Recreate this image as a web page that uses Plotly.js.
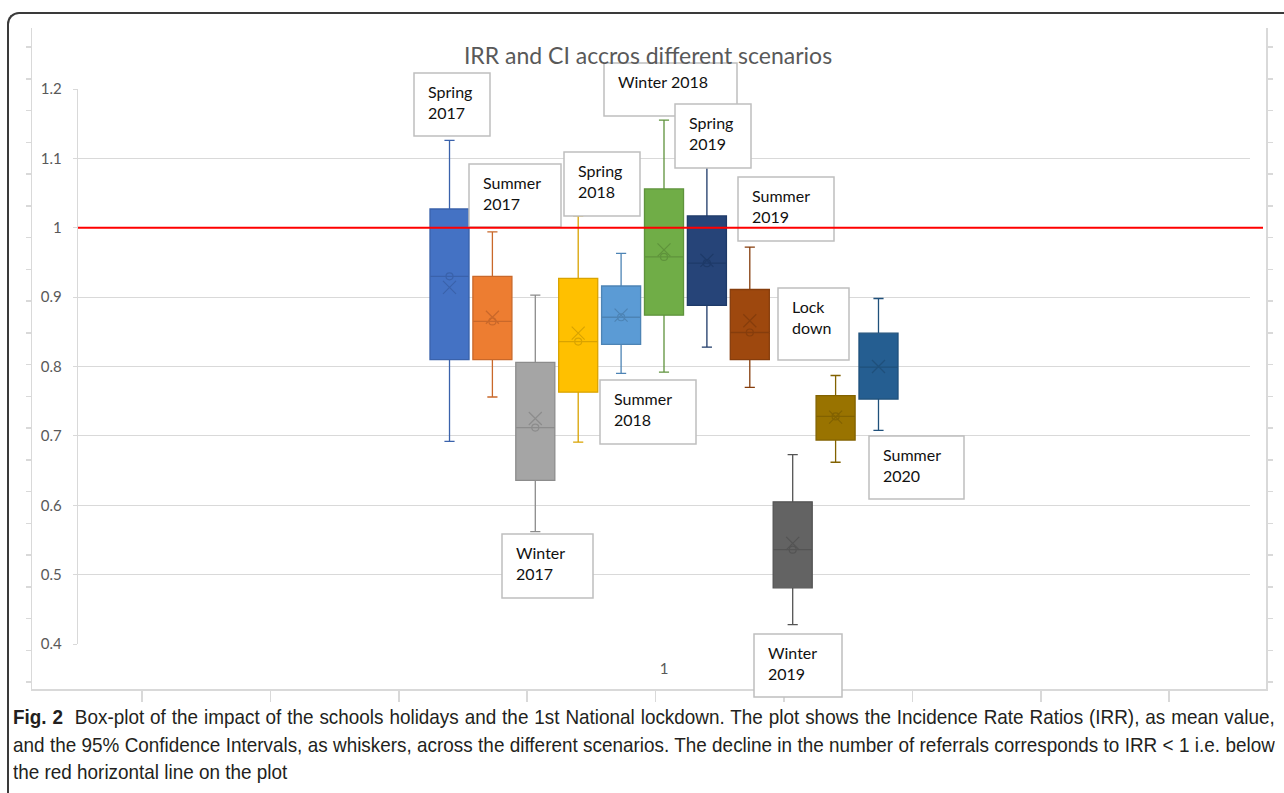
<!DOCTYPE html>
<html>
<head>
<meta charset="utf-8">
<script src="https://cdn.plot.ly/plotly-3.0.1.min.js"></script>
<style>
  html, body { margin: 0; padding: 0; background: #ffffff; width: 1284px; height: 793px; overflow: hidden; }
  #chart { position: absolute; left: 0; top: 0; width: 1284px; height: 793px; }
  #card { position: absolute; left: 7px; top: 12px; width: 1400px; height: 900px;
          border-left: 2px solid #3a3a3a; border-top: 2px solid #3a3a3a;
          border-top-left-radius: 12px; pointer-events: none; z-index: 3; }
  #caption { position: absolute; left: 13px; top: 703px; width: 1262px; z-index: 4;
             font-family: "Liberation Sans", Arial, sans-serif; font-size: 21px; color: #231f20; }
  .ln { width: 1402px; height: 27.5px; line-height: 27.5px; white-space: nowrap;
        transform: scaleX(0.9); transform-origin: left top; }
  .jl { text-align: justify; text-align-last: justify; white-space: normal; overflow: hidden; }
</style>
</head>
<body>
<div id="chart"></div>
<div id="card"></div>
<div id="caption">
  <div class="ln jl"><b>Fig. 2</b>&nbsp; Box-plot of the impact of the schools holidays and the 1st National lockdown. The plot shows the Incidence Rate Ratios (IRR), as mean value,</div>
  <div class="ln jl">and the 95% Confidence Intervals, as whiskers, across the different scenarios. The decline in the number of referrals corresponds to IRR &lt; 1 i.e. below</div>
  <div class="ln">the red horizontal line on the plot</div>
</div>
<script>
// ---------------- data ----------------
const scenarios = ["Spring 2017","Summer 2017","Winter 2017","Spring 2018","Summer 2018","Winter 2018",
                   "Spring 2019","Summer 2019","Winter 2019","Lock down","Summer 2020"];
const labelText = ["Spring<br>2017","Summer<br>2017","Winter<br>2017","Spring<br>2018","Summer<br>2018","Winter 2018",
                   "Spring<br>2019","Summer<br>2019","Winter<br>2019","Lock<br>down","Summer<br>2020"];
const upperCI = [1.126, 0.994, 0.903, 1.017, 0.963, 1.155, 1.100, 0.972, 0.673, 0.787, 0.898];
const q3      = [1.027, 0.930, 0.806, 0.927, 0.916, 1.056, 1.017, 0.911, 0.605, 0.758, 0.848];
const median  = [0.930, 0.865, 0.712, 0.836, 0.871, 0.958, 0.949, 0.849, 0.536, 0.728, 0.799];
const meanIRR = [0.914, 0.871, 0.725, 0.848, 0.874, 0.968, 0.953, 0.866, 0.545, 0.727, 0.800];
const q1      = [0.810, 0.810, 0.636, 0.763, 0.832, 0.874, 0.888, 0.810, 0.481, 0.694, 0.753];
const lowerCI = [0.692, 0.756, 0.562, 0.691, 0.790, 0.792, 0.828, 0.770, 0.428, 0.662, 0.708];
const innerPoint = [0.930, 0.865, 0.712, 0.836, 0.871, 0.958, 0.949, 0.849, 0.536, 0.728, null];
const categoryLabel = ["1"];
const yTicks = [0.4, 0.5, 0.6, 0.7, 0.8, 0.9, 1.0, 1.1, 1.2];
const yTickText = ["0.4","0.5","0.6","0.7","0.8","0.9","1","1.1","1.2"];
const referenceIRR = 1;
const titleText = "IRR and CI accros different scenarios";

// ---------------- styles ----------------
const fills = ["#4472C4","#ED7D31","#A5A5A5","#FFC000","#5B9BD5","#70AD47","#264478","#9E480E","#636363","#997300","#255E91"];
const edges = ["#3A62AB","#C9682A","#8C8C8C","#D9A300","#4D84B5","#5F933C","#1E3A68","#863D0C","#545454","#826200","#1F507B"];

// layout geometry (pixels of the 1284x793 page)
const M = {l: 32, r: 18, t: 28, b: 104};
const W = 1284, H = 793;
const PW = W - M.l - M.r, PH = H - M.t - M.b;
const px = v => (v - M.l) / PW;
const py = v => (H - M.b - v) / PH;

// label boxes [x0, y0, x1, y1] in page pixels
const labelBoxes = [
  [414, 73, 490, 136], [469, 164, 561, 227], [502, 534, 593, 598], [564, 152, 640, 216],
  [600, 380, 696, 444], [604, 63, 737, 116], [675, 104, 751, 168], [738, 177, 834, 241],
  [754, 634, 842, 697], [778, 288, 849, 360], [869, 436, 964, 499]
];
const drawOrder = [0, 1, 2, 3, 4, 5, 6, 7, 8, 9, 10];

const traces = [];
scenarios.forEach((name, i) => {
  traces.push({
    type: 'box', name: name, x: [i],
    q1: [q1[i]], median: [median[i]], q3: [q3[i]],
    lowerfence: [lowerCI[i]], upperfence: [upperCI[i]],
    width: 0.91, whiskerwidth: 0.26,
    fillcolor: fills[i], line: {color: edges[i], width: 1.3},
    boxpoints: false, hoverinfo: 'skip', showlegend: false,
    xaxis: 'x', yaxis: 'y'
  });
});
const idx = scenarios.map((_, i) => i);
traces.push({
  type: 'scatter', mode: 'markers', x: idx, y: innerPoint,
  marker: {symbol: 'circle-open', size: 7, color: edges, line: {color: edges, width: 1.2}},
  hoverinfo: 'skip', showlegend: false, xaxis: 'x', yaxis: 'y'
});
traces.push({
  type: 'scatter', mode: 'markers', x: idx, y: meanIRR,
  marker: {symbol: 'x-thin-open', size: 13, color: edges, line: {color: edges, width: 1.2}},
  hoverinfo: 'skip', showlegend: false, xaxis: 'x', yaxis: 'y'
});
// frame subplot (no data)
traces.push({type: 'scatter', x: [], y: [], xaxis: 'x2', yaxis: 'y2', hoverinfo: 'skip', showlegend: false});

const shapes = [];
const annotations = [];
drawOrder.forEach(i => {
  const b = labelBoxes[i];
  shapes.push({type: 'rect', xref: 'paper', yref: 'paper', x0: px(b[0]), x1: px(b[2]), y0: py(b[3]), y1: py(b[1]),
               fillcolor: '#ffffff', line: {color: '#BFBFBF', width: 1.5}, layer: 'above'});
  annotations.push({xref: 'paper', yref: 'paper', x: px(b[0] + 12), y: py(b[1] + 7),
                    xanchor: 'left', yanchor: 'top', align: 'left', showarrow: false,
                    text: labelText[i], font: {family: 'Lato, sans-serif', size: 16, color: '#111111'}});
});
shapes.push({type: 'line', xref: 'paper', yref: 'y', x0: px(78), x1: px(1263), y0: referenceIRR, y1: referenceIRR,
             line: {color: '#FF0000', width: 2}, layer: 'above'});

// frame ticks
const frameX = [0,1,2,3,4,5,6,7,8];
const frameY = []; for (let k = 0; k <= 20; k++) frameY.push(0.22 + k);

const layout = {
  width: W, height: H, autosize: false,
  margin: {l: M.l, r: M.r, t: M.t, b: M.b, pad: 0},
  paper_bgcolor: '#ffffff', plot_bgcolor: 'rgba(0,0,0,0)',
  showlegend: false,
  title: {text: titleText, x: 648 / W, xanchor: 'center', xref: 'container',
          y: 1 - 56 / H, yanchor: 'middle', yref: 'container',
          font: {family: 'Lato, sans-serif', size: 23, color: '#595959'}},
  xaxis: {domain: [px(78), px(1250)], anchor: 'y', range: [-8.66, 18.66],
          tickvals: [5], ticktext: categoryLabel, ticks: '', ticklabelstandoff: 14,
          tickfont: {family: 'Lato, sans-serif', size: 15, color: '#595959'},
          showgrid: false, zeroline: false, showline: false, fixedrange: true},
  yaxis: {domain: [py(644), py(89)], anchor: 'x', range: [0.4, 1.2],
          tickvals: yTicks, ticktext: yTickText, ticks: 'outside', ticklen: 4, tickcolor: '#d9d9d9',
          ticklabelstandoff: 8,
          tickfont: {family: 'Lato, sans-serif', size: 15, color: '#595959'},
          showgrid: true, gridcolor: '#d9d9d9', gridwidth: 1.2,
          showline: true, linecolor: '#d9d9d9', linewidth: 1.2, zeroline: false, fixedrange: true},
  xaxis2: {domain: [0, 1], anchor: 'y2', range: [-0.857, 8.754], tickvals: frameX,
           ticks: 'outside', ticklen: 11, tickcolor: '#d9d9d9', tickwidth: 1.5, showticklabels: false,
           showline: true, linecolor: '#d9d9d9', linewidth: 1.5, showgrid: false, zeroline: false, fixedrange: true},
  yaxis2: {domain: [0, 1], anchor: 'x2', range: [0, 20.82], tickvals: frameY,
           ticks: 'outside', ticklen: 5, tickcolor: '#d9d9d9', tickwidth: 1.5, showticklabels: false, mirror: 'ticks',
           showline: true, linecolor: '#d9d9d9', linewidth: 1.5, showgrid: false, zeroline: false, fixedrange: true},
  shapes: shapes,
  annotations: annotations
};

Plotly.newPlot('chart', traces, layout, {displayModeBar: false, staticPlot: true});
</script>
</body>
</html>
